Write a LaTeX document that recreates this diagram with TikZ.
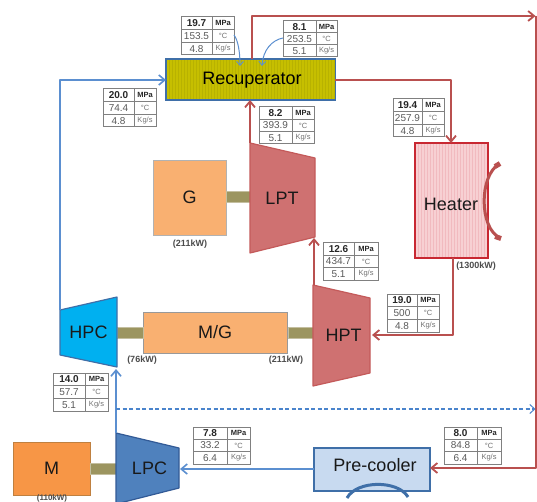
\documentclass[tikz,border=0pt]{standalone}
\usepackage{fontspec}
\setmainfont{Liberation Sans}
\usetikzlibrary{arrows.meta}
\definecolor{redline}{HTML}{B9504F}
\definecolor{blueline}{HTML}{5B8FD0}
\definecolor{dashblue}{HTML}{4A84CC}
\definecolor{boxblue}{HTML}{3F6FA8}
\definecolor{shaft}{HTML}{9C9560}
\definecolor{gridc}{HTML}{808080}
\definecolor{recfill}{RGB}{198,191,0}
\definecolor{recstripe}{RGB}{184,178,0}
\definecolor{heatedge}{RGB}{200,40,50}
\definecolor{heatfill}{RGB}{247,208,211}
\definecolor{heatstripe}{RGB}{241,186,191}
\definecolor{prefill}{RGB}{200,218,240}
\definecolor{lightorange}{RGB}{249,176,113}
\definecolor{deeporange}{RGB}{247,150,70}
\definecolor{turbfill}{RGB}{207,113,113}
\definecolor{turbedge}{RGB}{196,90,90}
\definecolor{hpcfill}{RGB}{0,176,240}
\definecolor{lpcfill}{RGB}{79,129,189}
\definecolor{lpcedge}{RGB}{50,90,150}
\tikzset{
  x=1pt,y=-1pt,
  hot/.style={draw=redline,line width=2pt,line join=round,-{Straight Barb[length=6pt,width=10pt,line width=1.8pt]}},
  cold/.style={draw=blueline,line width=1.8pt,line join=round,-{Straight Barb[length=6pt,width=10pt,line width=1.6pt]}},
  thin flow/.style={draw=blueline,line width=1pt,-{Straight Barb[length=4pt,width=7pt,line width=.9pt]}},
  block/.style={inner sep=0pt,outer sep=0pt,rectangle},
  big/.style={font=\fontsize{18}{18}\selectfont,text=black!90,inner sep=0pt},
  power/.style={font=\fontsize{9}{9}\selectfont\bfseries,text=black!70,inner sep=0pt},
  shaftbar/.style={fill=shaft,draw=shaft!60!white,line width=.6pt},
  turbine/.style={fill=turbfill,draw=turbedge,line width=1.2pt,line join=round},
  cellnum/.style={font=\fontsize{10}{10}\selectfont,text=black!65,inner sep=0pt},
  cellhead/.style={font=\fontsize{10}{10}\selectfont\bfseries,text=black!85,inner sep=0pt},
  cellunit/.style={font=\fontsize{7.5}{7.5}\selectfont,text=black!55,inner sep=0pt},
  cellmpa/.style={font=\fontsize{7.5}{7.5}\selectfont\bfseries,text=black!85,inner sep=0pt},
}
% name, x1, split, x2, y1, y2, pressure, temp, flow
\newcommand{\statbox}[9]{%
  \def\sbB{#2}\def\sbS{#3}\def\sbX{#4}\def\sbT{#5}\def\sbE{#6}%
  \pgfmathsetmacro{\sbRa}{\sbT+(\sbE-\sbT)/3}%
  \pgfmathsetmacro{\sbRb}{\sbT+2*(\sbE-\sbT)/3}%
  \pgfmathsetmacro{\sbCa}{(\sbT+\sbRa)/2}%
  \pgfmathsetmacro{\sbCb}{(\sbRa+\sbRb)/2}%
  \pgfmathsetmacro{\sbCc}{(\sbRb+\sbE)/2}%
  \pgfmathsetmacro{\sbLx}{(\sbB+\sbS)/2}%
  \pgfmathsetmacro{\sbUx}{(\sbS+\sbX)/2}%
  \fill[white] (\sbB,\sbT) rectangle (\sbX,\sbE);
  \draw[gridc,line width=1pt] (\sbB,\sbT) rectangle (\sbX,\sbE)
    (\sbB,\sbRa) -- (\sbX,\sbRa) (\sbB,\sbRb) -- (\sbX,\sbRb) (\sbS,\sbT) -- (\sbS,\sbE);
  \node[cellhead] (#1p) at (\sbLx,\sbCa) {#7};
  \node[cellmpa] (#1u) at (\sbUx,\sbCa) {MPa};
  \node[cellnum] (#1t) at (\sbLx,\sbCb) {#8};
  \node[cellunit] (#1c) at (\sbUx,\sbCb) {°C};
  \node[cellnum] (#1f) at (\sbLx,\sbCc) {#9};
  \node[cellunit] (#1k) at (\sbUx,\sbCc) {Kg/s};
}
\begin{document}
\begin{tikzpicture}
\useasboundingbox (0,0) rectangle (537,502);
\fill[white] (0,0) rectangle (537,502);

% anchor points of tapered machines
\coordinate (lptTop) at (250,143);
\coordinate (lptBot) at (314,238);
\coordinate (hptTop) at (314,285);
\coordinate (hptIn) at (372,335);
\coordinate (hpcTop) at (60,310);
\coordinate (hpcBot) at (116,369);
\coordinate (lpcTop) at (116,433);
\coordinate (lpcIn) at (180,469);
\coordinate (dashStart) at (116,409);
\coordinate (dashEnd) at (535.5,409);
\coordinate (topRight) at (535.5,16);
\coordinate (topLeft) at (252,16);
\coordinate (midRight) at (535.5,468);
\coordinate (hotRight) at (451,80);
\coordinate (heatOut) at (453,335);
\coordinate (recIn) at (60,80);

% blocks
\node[block,draw=boxblue,line width=1.2pt,fill=recfill,minimum width=169pt,minimum height=41pt] (rec) at (250.5,79.5) {};
\foreach \xx in {169,172,...,334} \draw[recstripe,line width=.5pt] (\xx,60) -- (\xx,99);
\node[big,text=black] at (252,80) {Recuperator};

\node[block,draw=heatedge,line width=1.4pt,fill=heatfill,minimum width=73pt,minimum height=115pt] (heat) at (451.5,200.5) {};
\foreach \xx in {418,421,...,486} \draw[heatstripe,line width=.6pt] (\xx,144) -- (\xx,257);
\node[big] at (451,204) {Heater};

\node[block,draw=boxblue,line width=1.4pt,fill=prefill,minimum width=116pt,minimum height=43pt] (pre) at (372,469.5) {};
\node[big,anchor=center] at (375,465) {Pre-cooler};

\node[block,draw=gray!60,line width=.8pt,fill=lightorange,minimum width=73pt,minimum height=75pt] (g) at (189.5,197.5) {};
\node[big] at (g) {G};
\node[block,draw=gray!80,line width=1pt,fill=lightorange,minimum width=144pt,minimum height=41pt] (mg) at (215,332.5) {};
\node[big] at (mg) {M/G};
\node[block,draw=gray!50!orange,line width=.8pt,fill=deeporange,minimum width=77pt,minimum height=53pt] (m) at (51.5,468.5) {};
\node[big] at (m) {M};

% shafts
\draw[shaftbar] (226,191) rectangle (250,202);
\draw[shaftbar] (117,327) rectangle (143,338);
\draw[shaftbar] (288,327) rectangle (313,338);
\draw[shaftbar] (90,463) rectangle (116,474);

% tapered machines
\draw[turbine] (250,143) -- (315,158) -- (315,237) -- (250,253) -- cycle;
\node[big] (lpt) at (282,198) {LPT};
\draw[turbine] (313,285) -- (370,298) -- (370,373) -- (313,386) -- cycle;
\node[big] (hpt) at (343.5,335) {HPT};
\draw[fill=hpcfill,draw=boxblue,line width=1.2pt,line join=round]
  (60,310) -- (117,297) -- (117,367) -- (60,355) -- cycle;
\node[big] (hpc) at (88.5,332) {HPC};
\draw[fill=lpcfill,draw=lpcedge,line width=1.2pt,line join=round]
  (116,433) -- (179,448) -- (179,488) -- (116,504) -- cycle;
\node[big] (lpc) at (149.5,468) {LPC};

% connectors
\draw[hot] (lptTop) -- (rec.south -| lptTop);
\draw[hot] (hptTop) -- (lptBot);
\draw[hot] (heat.south -| heatOut) -- (heatOut) -- (hptIn);
\draw[hot] (rec.east |- hotRight) -- (hotRight) -- (heat.north -| hotRight);
\draw[hot] (rec.north -| topLeft) -- (topLeft) -- (topRight);
\draw[hot] (topRight) -- (midRight) -- (pre.east |- midRight);
\draw[cold] (pre.west |- lpcIn) -- (lpcIn);
\draw[cold] (lpcTop) -- (hpcBot);
\draw[cold] (hpcTop) -- (recIn) -- (rec.west |- recIn);
\draw[dashblue,line width=1.2pt,dash pattern=on 4pt off 2.5pt,-{Straight Barb[length=5pt,width=9pt,line width=1pt]}] (dashStart) -- (dashEnd);

% heat exchange arcs
\draw[redline,line width=3pt] (499,164) .. controls (479,176) and (479,228) .. (500,238);
\draw[redline,line width=5pt] (495,166.5) -- (500,163.5);
\draw[redline,line width=5pt] (495,236.5) -- (501,238.5);
\draw[boxblue,line width=3pt] (347,498) .. controls (357,480) and (398,480) .. (408,497);

% state tables
\statbox{a}{181}{212}{234}{17}{55}{19.7}{153.5}{4.8}
\statbox{b}{283}{316}{337}{21}{57}{8.1}{253.5}{5.1}
\statbox{c}{103}{134}{156}{89}{127}{20.0}{74.4}{4.8}
\statbox{d}{259}{292}{314}{107}{144}{8.2}{393.9}{5.1}
\statbox{e}{393}{422}{444}{99}{137}{19.4}{257.9}{4.8}
\statbox{f}{323}{354}{378}{243}{280}{12.6}{434.7}{5.1}
\statbox{h}{387}{417}{439}{294}{332}{19.0}{500}{4.8}
\statbox{i}{53}{85}{108}{373}{411}{14.0}{57.7}{5.1}
\statbox{j}{193}{227}{250}{427}{464}{7.8}{33.2}{6.4}
\statbox{k}{444}{477}{501}{427}{464}{8.0}{84.8}{6.4}

% small state arrows into the recuperator
\coordinate (recA) at (240,66);
\coordinate (recB) at (262,66);
\draw[thin flow] (234,35) .. controls (238,40) and (240,52) .. (recA);
\draw[thin flow] (283,38) .. controls (272,40) and (263,50) .. (recB);

% power labels
\node[power] (p1) at (190,244) {(211kW)};
\node[power] (p2) at (142,360) {(76kW)};
\node[power] (p3) at (286,360) {(211kW)};
\node[power] (p4) at (476,266) {(1300kW)};
\node[power,font=\fontsize{8}{8}\selectfont\bfseries] (p5) at (52,498) {(110kW)};
\end{tikzpicture}
\end{document}
